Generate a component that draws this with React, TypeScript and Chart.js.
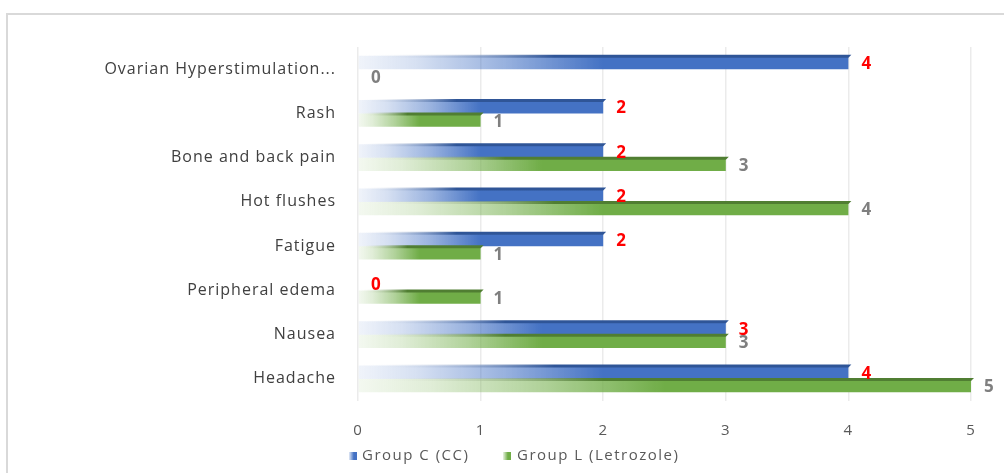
import React, { useEffect, useRef } from "react";
import { Chart, registerables } from "chart.js";

Chart.register(...registerables);

const categories = [
  "Ovarian Hyperstimulation...",
  "Rash",
  "Bone and back pain",
  "Hot flushes",
  "Fatigue",
  "Peripheral edema",
  "Nausea",
  "Headache",
];
const groupC = [4, 2, 2, 2, 2, 0, 3, 4];
const groupL = [0, 1, 3, 4, 1, 1, 3, 5];
const seriesNames = ["Group C (CC)", "Group L (Letrozole)"];
const xTicks = [0, 1, 2, 3, 4, 5];

const BLUE = [68, 114, 196];
const GREEN = [112, 173, 71];
const BLUE_DARK = "#2f5597";
const GREEN_DARK = "#507e32";
const FONT = "'Open Sans'";

function rgba(c: number[], a: number) {
  return `rgba(${c[0]},${c[1]},${c[2]},${a})`;
}

function gradientFill(rgb: number[]) {
  return (c: any) => {
    const chart = c.chart;
    const { ctx, chartArea } = chart;
    if (!chartArea || c.type !== "data") return rgba(rgb, 1);
    const xs = chart.scales.x;
    const v = c.raw as number;
    const x0 = xs.getPixelForValue(0);
    const x1 = xs.getPixelForValue(v);
    if (x1 - x0 < 2) return rgba(rgb, 1);
    const g = ctx.createLinearGradient(x0, 0, x1, 0);
    g.addColorStop(0, rgba(rgb, 0.08));
    g.addColorStop(0.12, rgba(rgb, 0.22));
    g.addColorStop(0.3, rgba(rgb, 0.55));
    g.addColorStop(0.5, rgba(rgb, 1));
    g.addColorStop(1, rgba(rgb, 1));
    return g;
  };
}

const spacingPlugin = {
  id: "letterSpacing",
  beforeLayout(chart: any) {
    chart.ctx.letterSpacing = "1px";
  },
  beforeDraw(chart: any) {
    chart.ctx.letterSpacing = "1px";
  },
};

const topFacePlugin = {
  id: "topFace",
  afterDatasetsDraw(chart: any) {
    const ctx = chart.ctx;
    chart.data.datasets.forEach((ds: any, di: number) => {
      const meta = chart.getDatasetMeta(di);
      const dark = di === 0 ? BLUE_DARK : GREEN_DARK;
      meta.data.forEach((el: any, i: number) => {
        const v = ds.data[i];
        if (!v) return;
        const { x, y, base, height } = el.getProps(["x", "y", "base", "height"], true);
        const top = y - height / 2;
        const g = ctx.createLinearGradient(base, 0, x, 0);
        g.addColorStop(0, "rgba(255,255,255,0)");
        g.addColorStop(0.4, dark);
        g.addColorStop(1, dark);
        ctx.save();
        ctx.fillStyle = g;
        ctx.beginPath();
        ctx.moveTo(base, top + 2);
        ctx.lineTo(x, top + 2);
        ctx.lineTo(x + 3, top - 1);
        ctx.lineTo(base + 3, top - 1);
        ctx.closePath();
        ctx.fill();
        ctx.restore();
      });
    });
  },
};

const valueLabelPlugin = {
  id: "valueLabels",
  afterDatasetsDraw(chart: any) {
    const ctx = chart.ctx;
    chart.data.datasets.forEach((ds: any, di: number) => {
      const meta = chart.getDatasetMeta(di);
      meta.data.forEach((el: any, i: number) => {
        const { x, y } = el.getProps(["x", "y"], true);
        ctx.save();
        ctx.font = `bold 17px ${FONT}`;
        ctx.fillStyle = di === 0 ? "#ff0000" : "#7f7f7f";
        ctx.textAlign = "left";
        ctx.textBaseline = "middle";
        ctx.fillText(String(ds.data[i]), x + 13, y + 2);
        ctx.restore();
      });
    });
  },
};

export default function App() {
  const ref = useRef<HTMLCanvasElement>(null);
  useEffect(() => {
    if (!ref.current) return;
    const chart = new Chart(ref.current, {
      type: "bar",
      data: {
        labels: categories,
        datasets: [
          {
            label: seriesNames[0],
            data: groupC,
            backgroundColor: gradientFill(BLUE),
            categoryPercentage: 0.61,
            barPercentage: 1,
          },
          {
            label: seriesNames[1],
            data: groupL,
            backgroundColor: gradientFill(GREEN),
            categoryPercentage: 0.61,
            barPercentage: 1,
          },
        ],
      },
      options: {
        indexAxis: "y",
        responsive: false,
        animation: false,
        layout: { padding: { left: 0, right: 33, top: 47, bottom: 27 } },
        plugins: {
          legend: { display: false },
          tooltip: { enabled: false },
        },
        scales: {
          x: {
            min: 0,
            max: 5,
            afterBuildTicks: (s: any) => {
              s.ticks = xTicks.map((v) => ({ value: v }));
            },
            afterFit: (s: any) => {
              s.height = 45;
            },
            grid: { color: "#ebebeb", lineWidth: 1.5, drawTicks: false },
            border: { display: false },
            ticks: {
              padding: 21,
              color: "#595959",
              font: { family: FONT, size: 15 },
            },
          },
          y: {
            afterFit: (s: any) => {
              s.width = 358;
            },
            grid: { display: false, drawTicks: false },
            border: { display: false },
            ticks: {
              padding: 22,
              color: "#404040",
              font: { family: FONT, size: 16 },
            },
          },
        },
      },
      plugins: [spacingPlugin, topFacePlugin, valueLabelPlugin],
    });
    return () => chart.destroy();
  }, []);

  const legendText: React.CSSProperties = {
    fontFamily: FONT,
    fontSize: 15,
    letterSpacing: "1.5px",
    color: "#595959",
    position: "absolute",
    top: 444,
    whiteSpace: "nowrap",
  };
  const box = (rgb: number[]): React.CSSProperties => ({
    position: "absolute",
    top: 452,
    width: 8,
    height: 8,
    background: `linear-gradient(to right, ${rgba(rgb, 0.15)}, ${rgba(rgb, 1)} 60%)`,
  });

  return (
    <div style={{ position: "fixed", left: 0, top: 0, width: 1004, height: 473, background: "#fff", overflow: "hidden" }}>
      <div
        style={{
          position: "absolute",
          left: 6,
          top: 13,
          width: 1020,
          height: 480,
          border: "2px solid #d9d9d9",
          boxSizing: "border-box",
        }}
      />
      <canvas ref={ref} width={1004} height={473} style={{ position: "absolute", left: 0, top: 0 }} />
      <span style={{ ...box(BLUE), left: 349 }} />
      <span style={{ ...legendText, left: 362 }}>{seriesNames[0]}</span>
      <span style={{ ...box(GREEN), left: 503 }} />
      <span style={{ ...legendText, left: 517 }}>{seriesNames[1]}</span>
    </div>
  );
}
